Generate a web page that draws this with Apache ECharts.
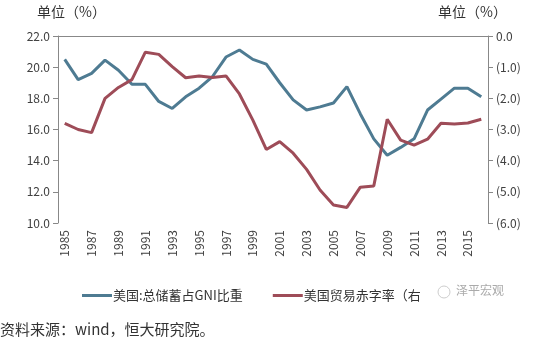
<!DOCTYPE html>
<html><head><meta charset="utf-8">
<script src="https://cdn.jsdelivr.net/npm/echarts@6/dist/echarts.min.js"></script>
<style>html,body{margin:0;padding:0;background:#fff}#c{width:533px;height:348px}</style>
</head><body><div id="c"></div>
<script>
const years = ['1985','1986','1987','1988','1989','1990','1991','1992','1993','1994','1995','1996','1997','1998','1999','2000','2001','2002','2003','2004','2005','2006','2007','2008','2009','2010','2011','2012','2013','2014','2015','2016'];
const savingsGNI = [20.5,19.2,19.6,20.45,19.8,18.9,18.9,17.8,17.35,18.1,18.65,19.4,20.65,21.1,20.5,20.2,19.0,17.9,17.25,17.45,17.7,18.75,17.0,15.4,14.35,14.85,15.4,17.25,17.95,18.65,18.65,18.1];
const tradeDeficit = [-2.8,-3.0,-3.1,-2.0,-1.65,-1.4,-0.52,-0.59,-0.98,-1.34,-1.28,-1.33,-1.28,-1.86,-2.7,-3.64,-3.39,-3.76,-4.28,-4.94,-5.42,-5.5,-4.85,-4.81,-2.67,-3.34,-3.5,-3.31,-2.8,-2.82,-2.79,-2.67];
const seriesNames = ['美国:总储蓄占GNI比重','美国贸易赤字率（右'];
const unitLabel = '单位（%）';
const sourceText = '资料来源：wind，恒大研究院。';
const watermark = '泽平宏观';

const FONT = 'Noto Sans CJK SC';
const chart = echarts.init(document.getElementById('c'));
chart.setOption({
  animation:false,
  textStyle:{fontFamily:FONT},
  grid:{left:58,right:45,top:36,bottom:125,containLabel:false},
  legend:{
    left:77, top:284, itemWidth:30, itemHeight:3, itemGap:30, icon:'rect',
    textStyle:{fontSize:13,color:'#333',fontFamily:FONT,padding:[0,0,0,-4]},
    data:seriesNames
  },
  xAxis:{
    type:'category', data:years, boundaryGap:true,
    axisLine:{lineStyle:{color:'#888',width:1}},
    axisTick:{interval:1,length:5,lineStyle:{color:'#888'}},
    axisLabel:{interval:1,rotate:90,fontSize:12,color:'#404040',margin:7,fontFamily:FONT}
  },
  yAxis:[
    {type:'value',min:10,max:22,interval:2,
     axisLine:{show:true,lineStyle:{color:'#888'}},
     axisTick:{show:true,length:5,lineStyle:{color:'#888'}},
     splitLine:{show:false},
     axisLabel:{fontSize:12,color:'#404040',margin:8,formatter:v=>v.toFixed(1),fontFamily:FONT}
    },
    {type:'value',min:-6,max:0,interval:1,position:'right',
     axisLine:{show:true,lineStyle:{color:'#888'}},
     axisTick:{show:true,length:5,lineStyle:{color:'#888'}},
     splitLine:{show:false},
     axisLabel:{fontSize:12,color:'#404040',margin:8,fontFamily:FONT,
       formatter:v=> v===0 ? '0.0' : '('+Math.abs(v).toFixed(1)+')'}
    }
  ],
  series:[
    {name:seriesNames[0],type:'line',data:savingsGNI,yAxisIndex:0,symbol:'none',
     lineStyle:{width:3,color:'#4e7b92'},itemStyle:{color:'#4e7b92'}},
    {name:seriesNames[1],type:'line',data:tradeDeficit,yAxisIndex:1,symbol:'none',
     lineStyle:{width:3,color:'#9e4c58'},itemStyle:{color:'#9e4c58'}}
  ],
  graphic:[
    {type:'text',left:37,top:5,style:{text:unitLabel,fontSize:14,fill:'#333',fontFamily:FONT}},
    {type:'text',left:438,top:5,style:{text:unitLabel,fontSize:14,fill:'#333',fontFamily:FONT}},
    {type:'circle',shape:{cx:444,cy:292,r:6},style:{fill:'none',stroke:'#ccc',lineWidth:1}},
    {type:'text',left:456,top:284,style:{text:watermark,fontSize:12,fill:'#aaa',fontFamily:FONT}},
    {type:'text',left:0,top:322,style:{text:sourceText,fontSize:15,fill:'#333',fontFamily:FONT}}
  ]
});
</script></body></html>
